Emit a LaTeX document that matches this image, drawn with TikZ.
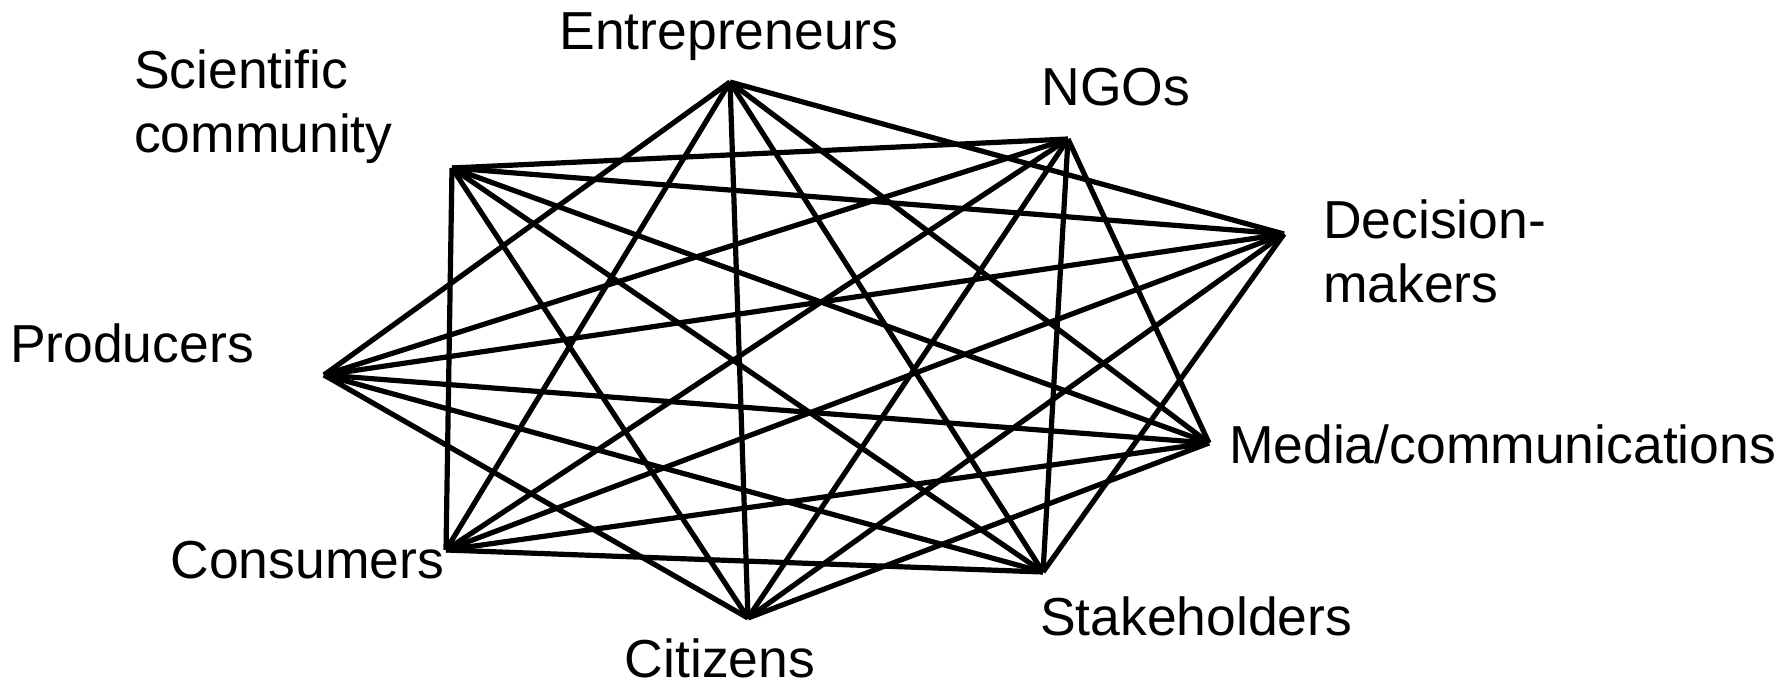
\documentclass[tikz,border=0pt]{standalone}
\usepackage{fontspec}
\setmainfont{Liberation Sans}
\begin{document}
\begin{tikzpicture}[x=1pt,y=-1pt,
  lbl/.style={inner sep=0pt,outer sep=0pt,font=\fontsize{53.5}{64}\selectfont,align=left},
  link/.style={line width=5.2pt,black}]
\useasboundingbox (0,0) rectangle (1791,685);
% vertices
\coordinate (sci) at (452,168);
\coordinate (ent) at (730,82);
\coordinate (ngo) at (1068,139);
\coordinate (dec) at (1284,234);
\coordinate (med) at (1209,443);
\coordinate (stk) at (1043,572);
\coordinate (cit) at (748,618);
\coordinate (con) at (446,550);
\coordinate (pro) at (324,375);
% connectors
\foreach \a/\b in {sci/ngo,sci/dec,sci/med,sci/stk,sci/cit,sci/con,
  ent/dec,ent/med,ent/stk,ent/cit,ent/con,ent/pro,
  ngo/med,ngo/stk,ngo/cit,ngo/con,ngo/pro,
  dec/stk,dec/cit,dec/con,dec/pro,
  med/cit,med/con,med/pro,
  stk/con,stk/pro,
  cit/pro}
  \draw[link] (\a) -- (\b);
% labels
\node[lbl,anchor=base] (tent) at (729,50) {Entrepreneurs};
\node[lbl,anchor=base] (tngo) at (1116,106) {NGOs};
\node[lbl,anchor=base west] (tsci) at (134,152) {Scientific\\community};
\node[lbl,anchor=base west] (tdec) at (1323,302) {Decision-\\makers};
\node[lbl,anchor=base west] (tmed) at (1229,463) {Media/communications};
\node[lbl,anchor=base west] (tpro) at (10,362) {Producers};
\node[lbl,anchor=base east] (tcon) at (444,578) {Consumers};
\node[lbl,anchor=base] (tcit) at (720,677) {Citizens};
\node[lbl,anchor=base west] (tstk) at (1040,635) {Stakeholders};
\end{tikzpicture}
\end{document}
